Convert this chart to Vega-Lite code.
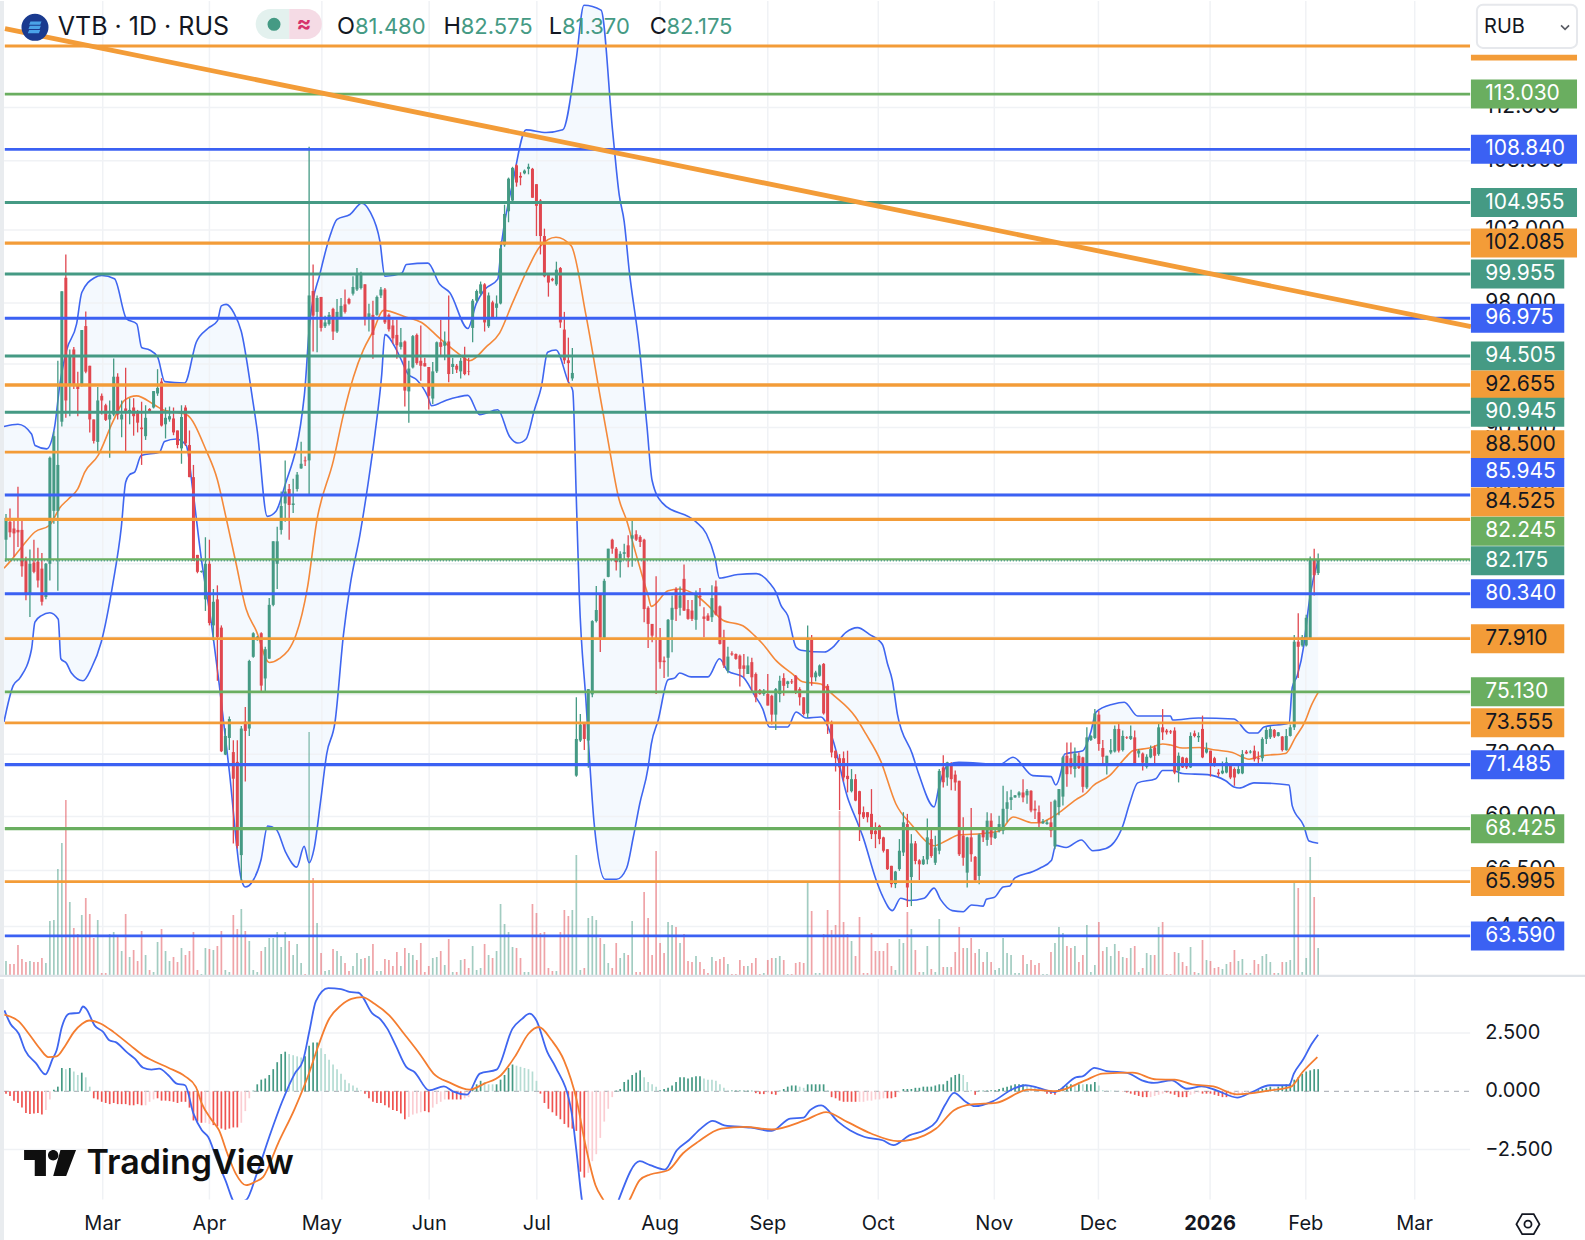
{"$schema":"https://vega.github.io/schema/vega-lite/v6.json","padding":0,"background":"white","spacing":0,"config":{"view":{"stroke":null},"concat":{"spacing":0},"text":{"font":"Inter"}},
"resolve":{"scale":{"color":"independent","strokeWidth":"independent","size":"independent"}},
"datasets":{
"candles":[
{"i":0,"o":83.36,"h":84.83,"l":82.12,"c":84.61,"v":14},{"i":1,"o":84.39,"h":85.16,"l":83.5,"c":83.78,"v":11},{"i":2,"o":84.0,"h":84.47,"l":82.4,"c":83.72,"v":11},{"i":3,"o":83.92,"h":86.43,"l":82.95,"c":83.78,"v":30},{"i":4,"o":83.92,"h":84.47,"l":81.28,"c":81.86,"v":16},{"i":5,"o":82.25,"h":82.39,"l":79.98,"c":80.29,"v":13},{"i":6,"o":80.29,"h":82.8,"l":79.07,"c":82.0,"v":14},{"i":7,"o":82.07,"h":83.36,"l":81.47,"c":81.55,"v":13},{"i":8,"o":82.12,"h":82.9,"l":80.68,"c":81.07,"v":13},{"i":9,"o":81.73,"h":82.6,"l":79.7,"c":79.9,"v":17},
{"i":10,"o":80.16,"h":82.05,"l":80.03,"c":82.0,"v":12},{"i":11,"o":82.0,"h":88.24,"l":81.07,"c":88.16,"v":54},{"i":12,"o":85.02,"h":89.77,"l":84.27,"c":89.47,"v":55},{"i":13,"o":85.02,"h":94.2,"l":80.5,"c":87.73,"v":106},{"i":14,"o":90.36,"h":98.78,"l":90.06,"c":98.78,"v":132},{"i":15,"o":99.7,"h":101.3,"l":90.6,"c":91.68,"v":175},{"i":16,"o":92.72,"h":94.93,"l":90.7,"c":94.54,"v":73},{"i":17,"o":94.93,"h":95.09,"l":92.4,"c":92.72,"v":47},{"i":18,"o":92.65,"h":93.5,"l":90.7,"c":92.4,"v":41},{"i":19,"o":92.65,"h":96.2,"l":92.56,"c":96.2,"v":60},
{"i":20,"o":96.46,"h":97.43,"l":93.4,"c":93.5,"v":77},{"i":21,"o":93.88,"h":93.88,"l":89.7,"c":90.5,"v":61},{"i":22,"o":90.5,"h":90.5,"l":89.03,"c":89.18,"v":37},{"i":23,"o":89.12,"h":92.53,"l":88.44,"c":91.68,"v":55},{"i":24,"o":91.97,"h":92.12,"l":90.8,"c":91.68,"v":2},{"i":25,"o":91.38,"h":91.47,"l":90.41,"c":90.47,"v":2},{"i":26,"o":90.5,"h":91.68,"l":88.16,"c":90.8,"v":41},{"i":27,"o":90.8,"h":94.35,"l":90.7,"c":93.18,"v":43},{"i":28,"o":93.18,"h":93.4,"l":90.5,"c":90.8,"v":38},{"i":29,"o":90.5,"h":91.68,"l":89.4,"c":90.8,"v":24},
{"i":30,"o":91.18,"h":93.75,"l":88.53,"c":91.0,"v":61},{"i":31,"o":90.95,"h":91.82,"l":90.2,"c":91.09,"v":18},{"i":32,"o":91.24,"h":91.82,"l":89.5,"c":90.7,"v":25},{"i":33,"o":91.0,"h":91.09,"l":89.7,"c":90.3,"v":14},{"i":34,"o":90.0,"h":91.6,"l":87.73,"c":89.9,"v":44},{"i":35,"o":89.47,"h":91.38,"l":89.24,"c":90.6,"v":20},{"i":36,"o":91.15,"h":91.2,"l":90.9,"c":90.95,"v":5},{"i":37,"o":91.24,"h":92.27,"l":91.18,"c":92.27,"v":3},{"i":38,"o":92.12,"h":93.66,"l":91.97,"c":92.47,"v":33},{"i":39,"o":92.87,"h":93.09,"l":90.06,"c":90.12,"v":46},
{"i":40,"o":90.2,"h":91.24,"l":89.33,"c":90.6,"v":24},{"i":41,"o":90.5,"h":91.3,"l":90.36,"c":90.7,"v":14},{"i":42,"o":90.56,"h":91.24,"l":89.53,"c":89.7,"v":18},{"i":43,"o":89.82,"h":89.82,"l":88.73,"c":88.93,"v":13},{"i":44,"o":88.73,"h":91.38,"l":87.8,"c":90.65,"v":27},{"i":45,"o":91.24,"h":91.38,"l":88.87,"c":89.03,"v":20},{"i":46,"o":88.93,"h":89.82,"l":87.0,"c":87.0,"v":24},{"i":47,"o":87.0,"h":87.73,"l":82.175,"c":82.175,"v":43},{"i":48,"o":82.5,"h":82.5,"l":81.47,"c":81.55,"v":5},{"i":49,"o":81.55,"h":81.62,"l":81.5,"c":81.6,"v":1},
{"i":50,"o":80.03,"h":83.5,"l":79.4,"c":82.0,"v":27},{"i":51,"o":82.0,"h":83.36,"l":78.62,"c":78.75,"v":26},{"i":52,"o":78.62,"h":80.6,"l":77.78,"c":79.9,"v":25},{"i":53,"o":80.03,"h":80.8,"l":75.7,"c":78.0,"v":29},{"i":54,"o":78.5,"h":78.62,"l":72.1,"c":72.14,"v":44},{"i":55,"o":71.98,"h":73.28,"l":71.95,"c":72.9,"v":5},{"i":56,"o":72.8,"h":73.88,"l":72.2,"c":73.75,"v":3},{"i":57,"o":72.1,"h":72.68,"l":67.73,"c":70.8,"v":60},{"i":58,"o":71.62,"h":72.68,"l":67.5,"c":67.62,"v":46},{"i":59,"o":67.2,"h":73.4,"l":66.0,"c":73.27,"v":66},
{"i":60,"o":73.62,"h":74.35,"l":70.67,"c":73.15,"v":44},{"i":61,"o":73.27,"h":76.8,"l":72.9,"c":76.73,"v":34},{"i":62,"o":76.95,"h":78.25,"l":76.9,"c":78.2,"v":5},{"i":63,"o":77.85,"h":78.05,"l":77.8,"c":78.0,"v":3},{"i":64,"o":78.2,"h":78.25,"l":75.08,"c":75.45,"v":24},{"i":65,"o":75.82,"h":77.48,"l":75.15,"c":77.35,"v":28},{"i":66,"o":76.85,"h":80.1,"l":76.85,"c":79.73,"v":37},{"i":67,"o":79.73,"h":83.27,"l":79.65,"c":83.27,"v":37},{"i":68,"o":82.0,"h":84.1,"l":80.6,"c":83.27,"v":43},{"i":69,"o":83.92,"h":86.15,"l":83.65,"c":85.3,"v":28},
{"i":70,"o":85.45,"h":88.0,"l":84.39,"c":86.15,"v":43},{"i":71,"o":86.3,"h":86.6,"l":83.36,"c":85.36,"v":34},{"i":72,"o":85.36,"h":86.9,"l":84.9,"c":85.45,"v":20},{"i":73,"o":86.3,"h":87.3,"l":86.15,"c":87.15,"v":31},{"i":74,"o":87.52,"h":89.13,"l":87.5,"c":87.8,"v":12},{"i":75,"o":88.0,"h":88.24,"l":87.67,"c":87.95,"v":1},{"i":76,"o":88.0,"h":109.04,"l":85.945,"c":98.5,"v":243},{"i":77,"o":98.8,"h":100.6,"l":94.8,"c":97.15,"v":97},{"i":78,"o":97.4,"h":98.5,"l":94.75,"c":98.33,"v":52},{"i":79,"o":98.4,"h":98.4,"l":96.1,"c":96.34,"v":22},
{"i":80,"o":96.45,"h":97.15,"l":96.34,"c":96.7,"v":4},{"i":81,"o":96.6,"h":97.4,"l":96.5,"c":97.2,"v":5},{"i":82,"o":97.6,"h":97.67,"l":95.55,"c":96.1,"v":26},{"i":83,"o":96.1,"h":98.26,"l":96.0,"c":97.4,"v":24},{"i":84,"o":97.05,"h":98.33,"l":97.05,"c":97.8,"v":19},{"i":85,"o":97.9,"h":98.9,"l":97.3,"c":97.4,"v":12},{"i":86,"o":98.26,"h":98.35,"l":97.9,"c":97.96,"v":4},{"i":87,"o":98.62,"h":99.8,"l":98.5,"c":99.07,"v":9},{"i":88,"o":98.9,"h":100.36,"l":98.8,"c":99.98,"v":22},{"i":89,"o":99.0,"h":100.1,"l":98.9,"c":99.88,"v":16},
{"i":90,"o":99.25,"h":99.25,"l":96.5,"c":97.05,"v":17},{"i":91,"o":97.05,"h":97.95,"l":96.1,"c":97.3,"v":19},{"i":92,"o":97.2,"h":98.15,"l":94.33,"c":95.88,"v":31},{"i":93,"o":97.2,"h":98.5,"l":97.15,"c":98.4,"v":4},{"i":94,"o":98.5,"h":99.07,"l":98.33,"c":98.9,"v":4},{"i":95,"o":98.9,"h":99.0,"l":96.6,"c":96.7,"v":16},{"i":96,"o":97.2,"h":97.3,"l":96.1,"c":96.25,"v":15},{"i":97,"o":96.5,"h":96.87,"l":95.3,"c":95.65,"v":9},{"i":98,"o":95.88,"h":96.87,"l":94.33,"c":95.2,"v":23},{"i":99,"o":95.1,"h":96.34,"l":94.93,"c":95.4,"v":9},
{"i":100,"o":95.45,"h":95.52,"l":91.3,"c":92.3,"v":27},{"i":101,"o":92.25,"h":94.2,"l":90.3,"c":93.7,"v":22},{"i":102,"o":93.77,"h":95.88,"l":93.7,"c":95.8,"v":20},{"i":103,"o":95.88,"h":95.98,"l":93.95,"c":94.05,"v":15},{"i":104,"o":94.2,"h":96.5,"l":92.93,"c":93.88,"v":32},{"i":105,"o":94.05,"h":94.4,"l":93.84,"c":93.84,"v":3},{"i":106,"o":93.8,"h":93.8,"l":91.12,"c":91.97,"v":9},{"i":107,"o":91.8,"h":94.12,"l":91.46,"c":93.52,"v":17},{"i":108,"o":93.52,"h":95.45,"l":93.42,"c":95.4,"v":18},{"i":109,"o":95.4,"h":96.87,"l":94.58,"c":95.1,"v":24},
{"i":110,"o":95.17,"h":96.1,"l":94.23,"c":95.45,"v":10},{"i":111,"o":95.45,"h":98.5,"l":92.83,"c":93.35,"v":36},{"i":112,"o":93.8,"h":94.4,"l":93.35,"c":94.0,"v":3},{"i":113,"o":93.88,"h":94.0,"l":93.42,"c":93.63,"v":3},{"i":114,"o":93.52,"h":94.4,"l":93.07,"c":94.2,"v":15},{"i":115,"o":94.4,"h":95.1,"l":93.28,"c":93.35,"v":16},{"i":116,"o":93.52,"h":94.4,"l":93.28,"c":93.49,"v":7},{"i":117,"o":96.34,"h":98.26,"l":95.4,"c":98.15,"v":29},{"i":118,"o":98.15,"h":98.9,"l":98.04,"c":98.8,"v":5},{"i":119,"o":98.62,"h":99.44,"l":98.5,"c":99.25,"v":7},
{"i":120,"o":99.25,"h":99.33,"l":96.1,"c":96.7,"v":31},{"i":121,"o":96.45,"h":98.7,"l":96.34,"c":98.5,"v":20},{"i":122,"o":98.04,"h":98.15,"l":96.95,"c":97.05,"v":17},{"i":123,"o":97.67,"h":98.5,"l":97.05,"c":97.96,"v":24},{"i":124,"o":97.96,"h":102.2,"l":97.9,"c":101.72,"v":71},{"i":125,"o":101.94,"h":104.8,"l":101.83,"c":104.14,"v":51},{"i":126,"o":104.33,"h":106.76,"l":103.55,"c":106.68,"v":43},{"i":127,"o":105.1,"h":107.55,"l":105.03,"c":107.47,"v":28},{"i":128,"o":107.66,"h":107.74,"l":106.1,"c":106.4,"v":27},{"i":129,"o":106.88,"h":107.15,"l":106.2,"c":106.76,"v":17},
{"i":130,"o":107.07,"h":107.35,"l":107.0,"c":107.27,"v":3},{"i":131,"o":107.4,"h":107.78,"l":107.0,"c":107.55,"v":3},{"i":132,"o":107.4,"h":107.47,"l":105.3,"c":105.3,"v":71},{"i":133,"o":106.28,"h":106.28,"l":102.58,"c":104.72,"v":62},{"i":134,"o":105.1,"h":105.2,"l":101.3,"c":102.58,"v":42},{"i":135,"o":102.58,"h":103.1,"l":99.73,"c":99.8,"v":43},{"i":136,"o":100.0,"h":100.0,"l":98.42,"c":99.37,"v":7},{"i":137,"o":99.63,"h":99.7,"l":99.45,"c":99.52,"v":4},{"i":138,"o":99.25,"h":100.8,"l":99.15,"c":100.25,"v":4},{"i":139,"o":100.36,"h":100.43,"l":96.34,"c":96.7,"v":43},
{"i":140,"o":96.23,"h":97.4,"l":94.0,"c":94.23,"v":65},{"i":141,"o":94.23,"h":95.7,"l":92.83,"c":94.05,"v":59},{"i":142,"o":93.07,"h":95.03,"l":92.93,"c":93.42,"v":65},{"i":143,"o":70.95,"h":74.85,"l":70.9,"c":72.75,"v":120},{"i":144,"o":72.67,"h":74.0,"l":72.6,"c":73.47,"v":5},{"i":145,"o":73.55,"h":73.6,"l":72.2,"c":72.75,"v":7},{"i":146,"o":72.67,"h":75.27,"l":71.33,"c":75.27,"v":57},{"i":147,"o":75.0,"h":78.9,"l":74.85,"c":78.85,"v":59},{"i":148,"o":78.85,"h":80.76,"l":78.77,"c":79.45,"v":55},{"i":149,"o":80.3,"h":80.3,"l":77.2,"c":77.96,"v":37},
{"i":150,"o":77.96,"h":81.17,"l":77.88,"c":81.05,"v":31},{"i":151,"o":81.27,"h":82.85,"l":81.25,"c":82.85,"v":12},{"i":152,"o":83.36,"h":83.42,"l":82.56,"c":82.85,"v":7},{"i":153,"o":82.85,"h":82.95,"l":81.62,"c":82.09,"v":32},{"i":154,"o":82.09,"h":82.71,"l":81.23,"c":82.56,"v":17},{"i":155,"o":82.56,"h":83.13,"l":82.22,"c":82.65,"v":22},{"i":156,"o":83.04,"h":83.61,"l":81.81,"c":82.37,"v":20},{"i":157,"o":83.42,"h":84.47,"l":81.83,"c":83.61,"v":54},{"i":158,"o":83.67,"h":83.9,"l":83.28,"c":83.36,"v":3},{"i":159,"o":83.52,"h":83.61,"l":82.95,"c":83.23,"v":3},
{"i":160,"o":83.36,"h":83.42,"l":78.79,"c":79.5,"v":83},{"i":161,"o":79.57,"h":79.65,"l":77.42,"c":78.7,"v":57},{"i":162,"o":78.7,"h":78.7,"l":77.72,"c":78.07,"v":20},{"i":163,"o":77.95,"h":81.3,"l":75.02,"c":77.85,"v":124},{"i":164,"o":77.9,"h":78.48,"l":76.32,"c":76.67,"v":32},{"i":165,"o":76.75,"h":76.96,"l":75.84,"c":76.67,"v":22},{"i":166,"o":76.9,"h":78.97,"l":75.91,"c":78.92,"v":53},{"i":167,"o":78.92,"h":80.24,"l":77.19,"c":79.57,"v":50},{"i":168,"o":80.6,"h":80.7,"l":78.85,"c":79.5,"v":48},{"i":169,"o":79.57,"h":80.74,"l":79.15,"c":80.24,"v":32},
{"i":170,"o":81.16,"h":81.96,"l":79.39,"c":79.42,"v":41},{"i":171,"o":79.5,"h":80.0,"l":78.92,"c":78.97,"v":14},{"i":172,"o":79.42,"h":80.0,"l":78.85,"c":78.97,"v":13},{"i":173,"o":78.92,"h":80.52,"l":78.38,"c":80.3,"v":19},{"i":174,"o":80.24,"h":80.66,"l":79.65,"c":80.15,"v":13},{"i":175,"o":79.1,"h":79.6,"l":77.98,"c":78.97,"v":6},{"i":176,"o":79.15,"h":79.28,"l":78.85,"c":78.88,"v":2},{"i":177,"o":79.06,"h":80.8,"l":78.8,"c":80.1,"v":18},{"i":178,"o":80.74,"h":81.07,"l":79.15,"c":79.2,"v":14},{"i":179,"o":79.65,"h":79.7,"l":77.6,"c":77.63,"v":16},
{"i":180,"o":77.98,"h":78.38,"l":76.37,"c":76.5,"v":18},{"i":181,"o":76.23,"h":77.48,"l":76.09,"c":76.96,"v":11},{"i":182,"o":77.13,"h":77.24,"l":77.0,"c":77.07,"v":1},{"i":183,"o":77.1,"h":77.13,"l":76.79,"c":76.84,"v":1},{"i":184,"o":77.01,"h":77.07,"l":75.41,"c":76.32,"v":15},{"i":185,"o":76.5,"h":77.1,"l":75.88,"c":76.32,"v":9},{"i":186,"o":76.05,"h":76.96,"l":76.05,"c":76.5,"v":9},{"i":187,"o":76.67,"h":76.9,"l":75.15,"c":75.88,"v":12},{"i":188,"o":76.05,"h":76.13,"l":74.6,"c":74.85,"v":17},{"i":189,"o":75.22,"h":75.27,"l":74.98,"c":75.02,"v":1},
{"i":190,"o":75.02,"h":75.27,"l":74.93,"c":75.19,"v":2},{"i":191,"o":75.02,"h":76.05,"l":74.43,"c":74.43,"v":15},{"i":192,"o":74.93,"h":74.98,"l":73.47,"c":73.97,"v":17},{"i":193,"o":73.97,"h":75.33,"l":73.2,"c":75.27,"v":17},{"i":194,"o":75.02,"h":75.96,"l":74.6,"c":75.7,"v":19},{"i":195,"o":75.84,"h":76.09,"l":74.93,"c":75.44,"v":15},{"i":196,"o":75.53,"h":75.7,"l":75.33,"c":75.67,"v":1},{"i":197,"o":75.67,"h":75.79,"l":75.53,"c":75.62,"v":1},{"i":198,"o":75.96,"h":76.0,"l":75.02,"c":75.1,"v":12},{"i":199,"o":75.27,"h":75.36,"l":74.43,"c":74.85,"v":13},
{"i":200,"o":74.85,"h":74.85,"l":73.92,"c":74.0,"v":12},{"i":201,"o":74.03,"h":78.62,"l":73.8,"c":77.9,"v":92},{"i":202,"o":77.9,"h":78.1,"l":75.44,"c":75.88,"v":64},{"i":203,"o":75.88,"h":76.22,"l":75.67,"c":76.13,"v":2},{"i":204,"o":75.96,"h":76.55,"l":75.91,"c":76.5,"v":2},{"i":205,"o":76.58,"h":76.62,"l":73.97,"c":74.03,"v":41},{"i":206,"o":75.44,"h":75.53,"l":73.0,"c":73.58,"v":65},{"i":207,"o":73.58,"h":73.67,"l":71.84,"c":72.08,"v":45},{"i":208,"o":72.17,"h":72.17,"l":71.15,"c":71.8,"v":50},{"i":209,"o":71.8,"h":72.0,"l":69.3,"c":71.35,"v":164},
{"i":210,"o":71.8,"h":72.13,"l":70.67,"c":70.86,"v":53},{"i":211,"o":70.94,"h":72.17,"l":70.14,"c":70.78,"v":41},{"i":212,"o":70.2,"h":71.27,"l":70.14,"c":70.78,"v":34},{"i":213,"o":70.78,"h":71.02,"l":69.72,"c":69.75,"v":19},{"i":214,"o":70.2,"h":70.22,"l":67.85,"c":69.1,"v":58},{"i":215,"o":69.2,"h":69.47,"l":68.88,"c":68.96,"v":2},{"i":216,"o":69.2,"h":69.2,"l":68.72,"c":68.96,"v":2},{"i":217,"o":69.12,"h":70.3,"l":67.94,"c":68.17,"v":42},{"i":218,"o":68.33,"h":68.72,"l":67.52,"c":68.17,"v":24},{"i":219,"o":68.56,"h":68.61,"l":67.7,"c":67.94,"v":24},
{"i":220,"o":68.02,"h":68.05,"l":67.32,"c":67.4,"v":24},{"i":221,"o":67.47,"h":67.47,"l":66.52,"c":66.56,"v":32},{"i":222,"o":66.71,"h":66.71,"l":65.73,"c":65.88,"v":9},{"i":223,"o":65.88,"h":66.48,"l":65.7,"c":66.45,"v":5},{"i":224,"o":66.56,"h":67.94,"l":66.48,"c":67.4,"v":36},{"i":225,"o":67.32,"h":69.2,"l":67.16,"c":68.72,"v":32},{"i":226,"o":68.64,"h":69.12,"l":64.86,"c":65.73,"v":63},{"i":227,"o":66.2,"h":68.17,"l":64.9,"c":67.74,"v":46},{"i":228,"o":67.74,"h":67.85,"l":66.78,"c":66.93,"v":25},{"i":229,"o":66.96,"h":67.01,"l":66.07,"c":66.78,"v":3},
{"i":230,"o":66.78,"h":67.16,"l":66.75,"c":67.0,"v":3},{"i":231,"o":67.0,"h":68.9,"l":66.78,"c":68.02,"v":29},{"i":232,"o":67.94,"h":68.41,"l":67.08,"c":67.16,"v":6},{"i":233,"o":66.85,"h":68.1,"l":66.75,"c":67.55,"v":3},{"i":234,"o":67.4,"h":71.27,"l":67.24,"c":71.18,"v":56},{"i":235,"o":71.35,"h":71.95,"l":70.38,"c":70.63,"v":8},{"i":236,"o":70.86,"h":71.62,"l":70.46,"c":71.6,"v":8},{"i":237,"o":71.5,"h":71.6,"l":70.25,"c":70.78,"v":8},{"i":238,"o":71.0,"h":71.2,"l":70.22,"c":70.62,"v":23},{"i":239,"o":70.7,"h":70.7,"l":67.16,"c":67.24,"v":48},
{"i":240,"o":68.1,"h":68.96,"l":66.71,"c":67.08,"v":27},{"i":241,"o":66.4,"h":68.05,"l":65.73,"c":68.02,"v":27},{"i":242,"o":68.02,"h":69.4,"l":66.9,"c":67.24,"v":37},{"i":243,"o":67.12,"h":67.16,"l":66.03,"c":66.06,"v":22},{"i":244,"o":66.25,"h":68.2,"l":65.88,"c":68.15,"v":26},{"i":245,"o":68.41,"h":68.49,"l":67.8,"c":68.02,"v":13},{"i":246,"o":67.9,"h":69.2,"l":67.63,"c":68.8,"v":23},{"i":247,"o":68.8,"h":69.15,"l":67.67,"c":68.02,"v":13},{"i":248,"o":67.99,"h":68.41,"l":67.94,"c":68.25,"v":5},{"i":249,"o":68.33,"h":69.03,"l":68.25,"c":68.64,"v":7},
{"i":250,"o":68.33,"h":70.46,"l":68.17,"c":69.36,"v":37},{"i":251,"o":69.36,"h":70.2,"l":68.72,"c":69.67,"v":22},{"i":252,"o":69.78,"h":70.27,"l":69.3,"c":69.91,"v":20},{"i":253,"o":69.9,"h":70.02,"l":69.88,"c":70.0,"v":2},{"i":254,"o":70.0,"h":70.2,"l":69.88,"c":70.14,"v":2},{"i":255,"o":70.14,"h":70.78,"l":69.67,"c":69.9,"v":20},{"i":256,"o":70.0,"h":70.3,"l":69.6,"c":70.22,"v":11},{"i":257,"o":70.22,"h":70.25,"l":69.2,"c":69.28,"v":15},{"i":258,"o":69.36,"h":69.75,"l":68.88,"c":69.28,"v":10},{"i":259,"o":69.2,"h":69.52,"l":68.36,"c":68.72,"v":12},
{"i":260,"o":68.68,"h":68.88,"l":68.64,"c":68.77,"v":1},{"i":261,"o":68.64,"h":68.83,"l":68.61,"c":68.72,"v":1},{"i":262,"o":68.72,"h":69.7,"l":68.02,"c":68.33,"v":23},{"i":263,"o":67.6,"h":69.8,"l":67.47,"c":69.75,"v":32},{"i":264,"o":69.44,"h":70.3,"l":69.06,"c":70.3,"v":48},{"i":265,"o":69.94,"h":71.92,"l":69.52,"c":71.84,"v":42},{"i":266,"o":71.92,"h":72.57,"l":70.41,"c":71.02,"v":29},{"i":267,"o":71.8,"h":72.57,"l":71.02,"c":71.35,"v":27},{"i":268,"o":71.27,"h":72.33,"l":70.86,"c":72.03,"v":29},{"i":269,"o":71.92,"h":72.08,"l":71.27,"c":71.32,"v":13},
{"i":270,"o":71.84,"h":71.87,"l":70.14,"c":70.41,"v":20},{"i":271,"o":70.38,"h":73.33,"l":70.3,"c":72.83,"v":50},{"i":272,"o":72.7,"h":72.95,"l":72.65,"c":72.9,"v":3},{"i":273,"o":72.8,"h":74.25,"l":72.75,"c":74.03,"v":10},{"i":274,"o":73.97,"h":74.17,"l":72.17,"c":72.5,"v":53},{"i":275,"o":72.3,"h":72.7,"l":71.5,"c":71.87,"v":24},{"i":276,"o":71.48,"h":71.92,"l":71.0,"c":71.92,"v":28},{"i":277,"o":72.08,"h":72.75,"l":72.0,"c":72.2,"v":19},{"i":278,"o":72.13,"h":73.42,"l":72.08,"c":73.25,"v":31},{"i":279,"o":73.25,"h":73.5,"l":72.08,"c":72.17,"v":24},
{"i":280,"o":72.2,"h":73.17,"l":72.13,"c":72.9,"v":18},{"i":281,"o":72.83,"h":72.88,"l":72.75,"c":72.8,"v":17},{"i":282,"o":72.75,"h":73.42,"l":72.7,"c":72.9,"v":27},{"i":283,"o":72.83,"h":73.17,"l":71.5,"c":71.5,"v":29},{"i":284,"o":72.03,"h":72.25,"l":71.84,"c":72.17,"v":3},{"i":285,"o":72.03,"h":72.08,"l":71.2,"c":71.58,"v":7},{"i":286,"o":71.38,"h":72.0,"l":71.3,"c":71.87,"v":22},{"i":287,"o":71.84,"h":72.42,"l":71.8,"c":72.25,"v":20},{"i":288,"o":72.33,"h":72.42,"l":71.5,"c":71.92,"v":20},{"i":289,"o":72.0,"h":73.58,"l":71.92,"c":73.33,"v":48},
{"i":290,"o":73.33,"h":74.25,"l":72.7,"c":73.08,"v":53},{"i":291,"o":73.17,"h":73.25,"l":72.97,"c":73.08,"v":1},{"i":292,"o":73.13,"h":73.2,"l":73.0,"c":73.08,"v":1},{"i":293,"o":73.17,"h":73.33,"l":71.02,"c":71.1,"v":23},{"i":294,"o":71.19,"h":72.08,"l":70.62,"c":71.92,"v":22},{"i":295,"o":71.84,"h":71.87,"l":71.32,"c":71.35,"v":13},{"i":296,"o":71.8,"h":71.84,"l":71.27,"c":71.35,"v":9},{"i":297,"o":71.35,"h":73.08,"l":71.32,"c":72.9,"v":28},{"i":298,"o":73.03,"h":73.17,"l":72.83,"c":72.9,"v":3},{"i":299,"o":72.83,"h":73.08,"l":72.6,"c":72.9,"v":2},
{"i":300,"o":73.25,"h":73.92,"l":71.8,"c":71.84,"v":35},{"i":301,"o":72.08,"h":72.57,"l":72.03,"c":72.25,"v":15},{"i":302,"o":72.17,"h":72.17,"l":70.9,"c":71.5,"v":14},{"i":303,"o":71.8,"h":71.87,"l":71.38,"c":71.43,"v":7},{"i":304,"o":71.1,"h":71.27,"l":70.9,"c":71.02,"v":8},{"i":305,"o":71.06,"h":71.64,"l":71.02,"c":71.19,"v":6},{"i":306,"o":71.1,"h":71.84,"l":71.06,"c":71.6,"v":11},{"i":307,"o":71.48,"h":71.55,"l":70.78,"c":70.86,"v":13},{"i":308,"o":71.27,"h":71.35,"l":70.46,"c":70.86,"v":25},{"i":309,"o":71.06,"h":71.48,"l":71.02,"c":71.27,"v":14},
{"i":310,"o":71.06,"h":72.2,"l":71.02,"c":72.0,"v":16},{"i":311,"o":72.12,"h":72.2,"l":72.0,"c":72.03,"v":2},{"i":312,"o":72.08,"h":72.2,"l":72.03,"c":72.13,"v":2},{"i":313,"o":72.17,"h":72.42,"l":71.64,"c":71.75,"v":15},{"i":314,"o":71.8,"h":72.13,"l":71.5,"c":71.75,"v":11},{"i":315,"o":71.8,"h":72.83,"l":71.64,"c":72.75,"v":19},{"i":316,"o":72.75,"h":73.33,"l":72.5,"c":73.2,"v":21},{"i":317,"o":72.83,"h":73.38,"l":72.75,"c":73.25,"v":13},{"i":318,"o":73.2,"h":73.25,"l":72.8,"c":72.87,"v":2},{"i":319,"o":72.9,"h":73.1,"l":72.87,"c":73.08,"v":2},
{"i":320,"o":72.87,"h":72.9,"l":72.13,"c":72.2,"v":13},{"i":321,"o":72.2,"h":73.25,"l":72.17,"c":72.9,"v":13},{"i":322,"o":72.9,"h":73.47,"l":72.87,"c":73.33,"v":15},{"i":323,"o":73.33,"h":78.1,"l":73.2,"c":77.75,"v":92},{"i":324,"o":77.75,"h":79.28,"l":75.84,"c":77.48,"v":87},{"i":325,"o":77.55,"h":78.1,"l":77.48,"c":78.0,"v":3},{"i":326,"o":77.55,"h":79.2,"l":77.5,"c":79.03,"v":17},{"i":327,"o":77.9,"h":82.41,"l":77.85,"c":82.28,"v":118},{"i":328,"o":82.22,"h":82.85,"l":80.24,"c":81.36,"v":78},{"i":329,"o":81.48,"h":82.575,"l":81.37,"c":82.175,"v":27}
],
"upper":[{"i":-0.5,"p":90.06},{"i":3,"p":90.2},{"i":6.4,"p":89.6},{"i":7.3,"p":88.9},{"i":10.2,"p":88.7},{"i":12.2,"p":90.06},{"i":13.5,"p":92.7},{"i":15.2,"p":94.9},{"i":17.7,"p":96.6},{"i":19,"p":98.7},{"i":22.2,"p":99.7},{"i":24,"p":99.85},{"i":27.2,"p":99.63},{"i":30.2,"p":96.95},{"i":32.8,"p":96.6},{"i":34,"p":95.06},{"i":36,"p":94.9},{"i":38,"p":94.45},{"i":39.8,"p":92.87},{"i":44.8,"p":92.78},{"i":47.7,"p":95.4},{"i":50.6,"p":96.3},{"i":53,"p":96.8},{"i":54,"p":97.8},{"i":55.2,"p":97.9},{"i":57.2,"p":97.3},{"i":59,"p":96.1},{"i":61.8,"p":91.8},{"i":63,"p":89.8},{"i":65.5,"p":84.7},{"i":67.7,"p":85.0},{"i":69.8,"p":86.4},{"i":74.8,"p":92.0},{"i":76.2,"p":96.8},{"i":78.75,"p":100.0},{"i":81.25,"p":102.6},{"i":83,"p":103.75},{"i":86.25,"p":104.1},{"i":89.2,"p":104.9},{"i":91.25,"p":104.3},{"i":93.75,"p":102.2},{"i":95,"p":99.8},{"i":99.2,"p":100},{"i":100.4,"p":100.6},{"i":105.8,"p":100.7},{"i":108.75,"p":99.25},{"i":111.25,"p":98.7},{"i":115.8,"p":96.3},{"i":117.9,"p":97.95},{"i":120,"p":98.9},{"i":123.3,"p":99.6},{"i":124.2,"p":102},{"i":127,"p":106.3},{"i":130.4,"p":110.3},{"i":135.4,"p":110.1},{"i":139.6,"p":110.3},{"i":142.9,"p":115.6},{"i":144.9,"p":120.1},{"i":149.2,"p":119.7},{"i":152.1,"p":110.2},{"i":153.75,"p":105.5},{"i":155,"p":103.6},{"i":156.25,"p":100.2},{"i":158.7,"p":95.3},{"i":160.7,"p":90.1},{"i":162,"p":86.8},{"i":164.5,"p":85.5},{"i":172.9,"p":84.4},{"i":175.6,"p":83.7},{"i":177.7,"p":82.4},{"i":178.9,"p":81.2},{"i":183.5,"p":81.4},{"i":188.1,"p":81.45},{"i":191.4,"p":80.95},{"i":193.1,"p":80.4},{"i":194.3,"p":79.7},{"i":196,"p":79.15},{"i":198.1,"p":77.45},{"i":199.3,"p":77.3},{"i":205.2,"p":77.2},{"i":207.25,"p":77.45},{"i":210.6,"p":78.25},{"i":213.5,"p":78.5},{"i":216.4,"p":78.15},{"i":219.75,"p":77.6},{"i":221,"p":76.6},{"i":222.25,"p":75.7},{"i":223.5,"p":74.0},{"i":227.25,"p":72.0},{"i":228.9,"p":71.0},{"i":232.7,"p":69.45},{"i":233.9,"p":70.38},{"i":235.2,"p":71.2},{"i":236.4,"p":71.5},{"i":238.9,"p":71.6},{"i":249.2,"p":71.5},{"i":252.5,"p":71.85},{"i":257.5,"p":70.95},{"i":262,"p":70.9},{"i":263.2,"p":70.5},{"i":264.6,"p":71.2},{"i":265.4,"p":72},{"i":270,"p":72.17},{"i":272,"p":73.1},{"i":273.3,"p":74.1},{"i":277.5,"p":74.5},{"i":280.4,"p":74.6},{"i":283.75,"p":73.9},{"i":292,"p":73.9},{"i":292.5,"p":73.7},{"i":299,"p":73.8},{"i":307.9,"p":73.75},{"i":311.7,"p":73.05},{"i":313.75,"p":73.05},{"i":315.4,"p":73.35},{"i":321.7,"p":73.55},{"i":322.5,"p":75.36},{"i":323.75,"p":75.96},{"i":325.4,"p":77.55},{"i":326.3,"p":79.15},{"i":327.1,"p":80.4},{"i":329,"p":82.2}],
"lower":[{"i":-0.5,"p":73.6},{"i":1.8,"p":75.45},{"i":3.5,"p":75.85},{"i":6.4,"p":77.35},{"i":7.25,"p":78.8},{"i":8.9,"p":79.15},{"i":11,"p":79.3},{"i":13.1,"p":78.95},{"i":13.75,"p":76.85},{"i":15.2,"p":76.6},{"i":16.4,"p":76.1},{"i":19.3,"p":75.7},{"i":21.4,"p":76.35},{"i":23.9,"p":77.75},{"i":26.8,"p":80.9},{"i":28.9,"p":84.05},{"i":30,"p":86.7},{"i":31,"p":87.15},{"i":32.25,"p":87.3},{"i":33.9,"p":88.3},{"i":38.5,"p":88.5},{"i":39.75,"p":89.15},{"i":42.7,"p":89.3},{"i":45.2,"p":88.9},{"i":46.8,"p":86.3},{"i":48.9,"p":82.4},{"i":51.8,"p":78.25},{"i":53.5,"p":75.45},{"i":56,"p":71.15},{"i":59,"p":66.1},{"i":60,"p":65.75},{"i":61.8,"p":66.0},{"i":63.9,"p":66.95},{"i":65.6,"p":68.55},{"i":67.7,"p":68.4},{"i":70.2,"p":67.3},{"i":72.9,"p":66.65},{"i":74.75,"p":67.6},{"i":76,"p":66.85},{"i":77.25,"p":67.5},{"i":78.9,"p":69.75},{"i":80.4,"p":72.0},{"i":82.5,"p":73.6},{"i":84.6,"p":78.1},{"i":86.25,"p":80.75},{"i":88.75,"p":83.65},{"i":90.8,"p":86.65},{"i":92.5,"p":89.6},{"i":94.2,"p":93.3},{"i":95,"p":95.9},{"i":97.9,"p":94.9},{"i":99.2,"p":94.2},{"i":100.8,"p":93.35},{"i":102.9,"p":93.0},{"i":105.8,"p":91.9},{"i":106.7,"p":91.35},{"i":110.4,"p":91.7},{"i":113.3,"p":91.9},{"i":115.8,"p":92.0},{"i":118.75,"p":90.8},{"i":123.3,"p":91.1},{"i":126.25,"p":89.45},{"i":128.3,"p":89.05},{"i":130.4,"p":89.3},{"i":132.5,"p":91.1},{"i":134.2,"p":92.5},{"i":135.8,"p":94.75},{"i":137.9,"p":94.9},{"i":141,"p":92.85},{"i":142.1,"p":92.3},{"i":143,"p":85.7},{"i":143.75,"p":80.2},{"i":145.4,"p":74.7},{"i":147.5,"p":68.6},{"i":150.2,"p":66.1},{"i":153.1,"p":66.1},{"i":155.6,"p":66.6},{"i":157.25,"p":68.0},{"i":158.9,"p":69.6},{"i":161,"p":71.35},{"i":161.8,"p":72.5},{"i":163.5,"p":73.67},{"i":166,"p":75.75},{"i":167.7,"p":75.85},{"i":168.9,"p":76.1},{"i":171.8,"p":75.9},{"i":176,"p":75.9},{"i":178.9,"p":76.85},{"i":181,"p":76.2},{"i":184.75,"p":75.9},{"i":187.7,"p":74.95},{"i":189.75,"p":74.25},{"i":191.4,"p":73.35},{"i":196,"p":73.35},{"i":198.1,"p":74.1},{"i":200.6,"p":73.8},{"i":204.3,"p":73.85},{"i":207.25,"p":72.75},{"i":211,"p":69.9},{"i":213.5,"p":68.7},{"i":214.75,"p":68.1},{"i":218.1,"p":66.1},{"i":219.75,"p":65.35},{"i":222.25,"p":64.7},{"i":224.3,"p":65.25},{"i":226.4,"p":65.15},{"i":230.2,"p":65.25},{"i":232.7,"p":65.7},{"i":234.3,"p":65.2},{"i":237.25,"p":64.7},{"i":240,"p":64.65},{"i":242.1,"p":64.95},{"i":245,"p":64.9},{"i":245.8,"p":65.2},{"i":247.9,"p":65.3},{"i":250,"p":65.75},{"i":251.7,"p":65.8},{"i":252.9,"p":66.15},{"i":257.5,"p":66.45},{"i":259.2,"p":66.6},{"i":262.1,"p":66.95},{"i":263.2,"p":67.65},{"i":265.8,"p":67.55},{"i":269.6,"p":67.9},{"i":272.5,"p":67.4},{"i":275.8,"p":67.5},{"i":277.9,"p":67.8},{"i":280,"p":68.55},{"i":281.7,"p":69.6},{"i":283.75,"p":70.6},{"i":288.3,"p":70.8},{"i":290,"p":71.2},{"i":292.5,"p":71.2},{"i":295,"p":71.05},{"i":301.25,"p":71.0},{"i":305.8,"p":70.7},{"i":307.9,"p":70.4},{"i":309.2,"p":70.35},{"i":312.9,"p":70.6},{"i":321.7,"p":70.5},{"i":322.5,"p":69.5},{"i":325.4,"p":68.55},{"i":326.7,"p":67.85},{"i":329,"p":67.75}],
"ma":[{"i":-0.5,"p":81.75},{"i":1,"p":82.12},{"i":4.3,"p":83.05},{"i":7.25,"p":83.8},{"i":11,"p":84.2},{"i":13.5,"p":85.2},{"i":15.6,"p":85.7},{"i":18,"p":86.3},{"i":19.75,"p":87.3},{"i":23.1,"p":88.3},{"i":26.8,"p":90.36},{"i":29.75,"p":91.7},{"i":32.7,"p":91.97},{"i":37.25,"p":91.4},{"i":39.3,"p":91.1},{"i":45.2,"p":90.8},{"i":50.2,"p":88.6},{"i":53,"p":86.85},{"i":55.2,"p":84.6},{"i":57.7,"p":82.0},{"i":60.2,"p":79.5},{"i":62.7,"p":78.35},{"i":66,"p":76.65},{"i":68.5,"p":76.85},{"i":72.7,"p":78.1},{"i":75.6,"p":80.7},{"i":77.9,"p":84.4},{"i":82.1,"p":88.0},{"i":84.6,"p":90.8},{"i":87.1,"p":93.15},{"i":89.6,"p":94.9},{"i":92.1,"p":96.15},{"i":94.6,"p":97.5},{"i":100.4,"p":97.05},{"i":104.2,"p":96.7},{"i":108.75,"p":95.65},{"i":113.75,"p":94.6},{"i":116.25,"p":94.2},{"i":120.4,"p":95.1},{"i":123.75,"p":96.0},{"i":127,"p":98.0},{"i":131.25,"p":100.55},{"i":133.75,"p":101.8},{"i":137.9,"p":102.5},{"i":141.7,"p":101.9},{"i":145.4,"p":97.2},{"i":149.2,"p":91.6},{"i":150.8,"p":89.4},{"i":153.75,"p":85.65},{"i":155.6,"p":84.47},{"i":157.7,"p":82.75},{"i":159.75,"p":81.15},{"i":161,"p":80.24},{"i":161.8,"p":79.65},{"i":166,"p":80.5},{"i":168.9,"p":80.6},{"i":173.1,"p":80.24},{"i":176,"p":79.7},{"i":179.75,"p":78.9},{"i":184.75,"p":78.6},{"i":187.7,"p":78.07},{"i":189.75,"p":77.63},{"i":193.1,"p":76.75},{"i":197.25,"p":76.05},{"i":199.75,"p":75.65},{"i":204.3,"p":75.53},{"i":207.25,"p":75.0},{"i":213,"p":73.85},{"i":215.6,"p":73.0},{"i":219.3,"p":71.67},{"i":223.1,"p":69.6},{"i":227.25,"p":68.56},{"i":230.6,"p":67.85},{"i":232.7,"p":67.63},{"i":235.6,"p":67.85},{"i":238.9,"p":68.13},{"i":245,"p":68.2},{"i":249.2,"p":68.33},{"i":252.5,"p":68.97},{"i":257.5,"p":68.7},{"i":259.2,"p":68.7},{"i":261.7,"p":68.9},{"i":264.2,"p":69.2},{"i":268.3,"p":69.8},{"i":270.8,"p":70.1},{"i":272.5,"p":70.45},{"i":276.7,"p":70.95},{"i":280.8,"p":71.85},{"i":282.5,"p":72.17},{"i":286.7,"p":72.3},{"i":290,"p":72.5},{"i":292,"p":72.45},{"i":295,"p":72.3},{"i":299.2,"p":72.33},{"i":303.3,"p":72.2},{"i":307.5,"p":72.08},{"i":311.7,"p":71.75},{"i":315,"p":71.92},{"i":320.8,"p":72.03},{"i":323.3,"p":72.83},{"i":325.8,"p":73.67},{"i":327.1,"p":74.35},{"i":329,"p":75.1}],
"levels":[{"p":116.8,"lp":116.8,"k":"orange","g":"m"},{"p":113.03,"lp":113.03,"k":"green","g":"m"},{"p":108.84,"lp":108.84,"k":"blue","g":"m"},{"p":104.955,"lp":104.955,"k":"teal","g":"m"},{"p":102.085,"lp":102.085,"k":"orange","g":"l"},{"p":99.955,"lp":99.955,"k":"teal","g":"m"},{"p":96.975,"lp":96.975,"k":"blue","g":"m"},{"p":94.505,"lp":94.505,"k":"teal","g":"m"},{"p":92.655,"lp":92.655,"k":"orange","g":"l"},{"p":90.945,"lp":90.945,"k":"teal","g":"m"},{"p":88.5,"lp":88.94,"k":"orange","g":"m"},{"p":85.945,"lp":87.28,"k":"blue","g":"m"},{"p":84.525,"lp":85.53,"k":"orange","g":"l"},{"p":82.245,"lp":83.85,"k":"green","g":"s"},{"p":82.175,"lp":82.175,"k":"teal","g":"d"},{"p":80.34,"lp":80.34,"k":"blue","g":"m"},{"p":77.91,"lp":77.91,"k":"orange","g":"m"},{"p":75.13,"lp":75.13,"k":"green","g":"m"},{"p":73.555,"lp":73.555,"k":"orange","g":"m"},{"p":71.485,"lp":71.485,"k":"blue","g":"l"},{"p":68.425,"lp":68.425,"k":"green","g":"l"},{"p":65.995,"lp":65.995,"k":"orange","g":"m"},{"p":63.59,"lp":63.59,"k":"blue","g":"m"}],
"ticks":[{"p":112},{"p":108},{"p":103},{"p":98},{"p":94},{"p":90},{"p":86},{"p":82},{"p":78},{"p":75},{"p":72},{"p":69},{"p":66.5},{"p":64}],
"months":[{"i":24.25,"t":"Mar"},{"i":51,"t":"Apr"},{"i":79.2,"t":"May"},{"i":106.1,"t":"Jun"},{"i":133.1,"t":"Jul"},{"i":164,"t":"Aug"},{"i":191,"t":"Sep"},{"i":218.7,"t":"Oct"},{"i":247.8,"t":"Nov"},{"i":273.9,"t":"Dec"},{"i":301.9,"t":"2026"},{"i":325.9,"t":"Feb"},{"i":353.2,"t":"Mar"}],
"head":[{"i":13,"t":"VTB · 1D · RUS","k":"name"},{"i":83,"t":"O","k":"dark"},{"i":87.5,"t":"81.480","k":"val"},{"i":109.7,"t":"H","k":"dark"},{"i":114,"t":"82.575","k":"val"},{"i":136.1,"t":"L","k":"dark"},{"i":139.4,"t":"81.370","k":"val"},{"i":161.4,"t":"C","k":"dark"},{"i":165.6,"t":"82.175","k":"val"}],
"hist":[{"i":0,"m":-0.1,"k":"c"},{"i":1,"m":-0.2,"k":"c"},{"i":2,"m":-0.4,"k":"c"},{"i":3,"m":-0.5,"k":"c"},{"i":4,"m":-0.7,"k":"c"},{"i":5,"m":-0.93,"k":"c"},{"i":6,"m":-0.97,"k":"c"},{"i":7,"m":-0.95,"k":"c"},{"i":8,"m":-0.93,"k":"c"},{"i":9,"m":-1.0,"k":"c"},{"i":10,"m":-0.8,"k":"d"},{"i":11,"m":-0.35,"k":"d"},{"i":12,"m":0.07,"k":"a"},{"i":13,"m":0.2,"k":"a"},{"i":14,"m":1.0,"k":"a"},{"i":15,"m":0.95,"k":"b"},{"i":16,"m":1.0,"k":"a"},{"i":17,"m":0.85,"k":"b"},{"i":18,"m":0.7,"k":"b"},{"i":19,"m":0.8,"k":"a"},{"i":20,"m":0.6,"k":"b"},{"i":21,"m":0.2,"k":"b"},{"i":22,"m":-0.3,"k":"c"},{"i":23,"m":-0.35,"k":"c"},{"i":24,"m":-0.45,"k":"c"},{"i":25,"m":-0.5,"k":"c"},{"i":26,"m":-0.55,"k":"c"},{"i":27,"m":-0.5,"k":"c"},{"i":28,"m":-0.55,"k":"c"},{"i":29,"m":-0.55,"k":"c"},{"i":30,"m":-0.55,"k":"c"},{"i":31,"m":-0.6,"k":"c"},{"i":32,"m":-0.6,"k":"c"},{"i":33,"m":-0.55,"k":"c"},{"i":34,"m":-0.6,"k":"c"},{"i":35,"m":-0.6,"k":"d"},{"i":36,"m":-0.45,"k":"d"},{"i":37,"m":-0.35,"k":"d"},{"i":38,"m":-0.3,"k":"c"},{"i":39,"m":-0.4,"k":"c"},{"i":40,"m":-0.4,"k":"c"},{"i":41,"m":-0.42,"k":"c"},{"i":42,"m":-0.45,"k":"c"},{"i":43,"m":-0.5,"k":"c"},{"i":44,"m":-0.45,"k":"c"},{"i":45,"m":-0.45,"k":"c"},{"i":46,"m":-0.7,"k":"c"},{"i":47,"m":-1.25,"k":"c"},{"i":48,"m":-1.3,"k":"c"},{"i":49,"m":-1.35,"k":"c"},{"i":50,"m":-1.35,"k":"d"},{"i":51,"m":-1.4,"k":"d"},{"i":52,"m":-1.45,"k":"c"},{"i":53,"m":-1.5,"k":"c"},{"i":54,"m":-1.6,"k":"c"},{"i":55,"m":-1.65,"k":"c"},{"i":56,"m":-1.6,"k":"c"},{"i":57,"m":-1.55,"k":"c"},{"i":58,"m":-1.55,"k":"c"},{"i":59,"m":-1.35,"k":"d"},{"i":60,"m":-0.85,"k":"d"},{"i":61,"m":-0.3,"k":"d"},{"i":62,"m":0.03,"k":"a"},{"i":63,"m":0.3,"k":"a"},{"i":64,"m":0.5,"k":"a"},{"i":65,"m":0.55,"k":"a"},{"i":66,"m":0.7,"k":"a"},{"i":67,"m":0.95,"k":"a"},{"i":68,"m":1.25,"k":"a"},{"i":69,"m":1.6,"k":"a"},{"i":70,"m":1.7,"k":"a"},{"i":71,"m":1.6,"k":"b"},{"i":72,"m":1.55,"k":"b"},{"i":73,"m":1.5,"k":"b"},{"i":74,"m":1.45,"k":"b"},{"i":75,"m":1.5,"k":"a"},{"i":76,"m":1.95,"k":"a"},{"i":77,"m":2.1,"k":"a"},{"i":78,"m":2.1,"k":"a"},{"i":79,"m":1.85,"k":"b"},{"i":80,"m":1.6,"k":"b"},{"i":81,"m":1.35,"k":"b"},{"i":82,"m":1.15,"k":"b"},{"i":83,"m":0.95,"k":"b"},{"i":84,"m":0.75,"k":"b"},{"i":85,"m":0.5,"k":"b"},{"i":86,"m":0.35,"k":"b"},{"i":87,"m":0.25,"k":"b"},{"i":88,"m":0.15,"k":"b"},{"i":89,"m":0.05,"k":"b"},{"i":90,"m":-0.1,"k":"c"},{"i":91,"m":-0.3,"k":"c"},{"i":92,"m":-0.45,"k":"c"},{"i":93,"m":-0.5,"k":"c"},{"i":94,"m":-0.5,"k":"c"},{"i":95,"m":-0.6,"k":"c"},{"i":96,"m":-0.7,"k":"c"},{"i":97,"m":-0.8,"k":"c"},{"i":98,"m":-0.85,"k":"c"},{"i":99,"m":-0.95,"k":"c"},{"i":100,"m":-1.2,"k":"c"},{"i":101,"m":-1.1,"k":"d"},{"i":102,"m":-1.0,"k":"d"},{"i":103,"m":-0.95,"k":"d"},{"i":104,"m":-0.9,"k":"d"},{"i":105,"m":-0.85,"k":"c"},{"i":106,"m":-0.9,"k":"c"},{"i":107,"m":-0.7,"k":"d"},{"i":108,"m":-0.55,"k":"d"},{"i":109,"m":-0.45,"k":"d"},{"i":110,"m":-0.35,"k":"d"},{"i":111,"m":-0.35,"k":"c"},{"i":112,"m":-0.35,"k":"c"},{"i":113,"m":-0.35,"k":"c"},{"i":114,"m":-0.35,"k":"c"},{"i":115,"m":-0.3,"k":"d"},{"i":116,"m":-0.25,"k":"d"},{"i":117,"m":0.15,"k":"a"},{"i":118,"m":0.3,"k":"a"},{"i":119,"m":0.45,"k":"a"},{"i":120,"m":0.4,"k":"b"},{"i":121,"m":0.3,"k":"b"},{"i":122,"m":0.3,"k":"b"},{"i":123,"m":0.3,"k":"a"},{"i":124,"m":0.5,"k":"a"},{"i":125,"m":0.7,"k":"a"},{"i":126,"m":1.0,"k":"a"},{"i":127,"m":1.15,"k":"a"},{"i":128,"m":1.1,"k":"b"},{"i":129,"m":1.05,"k":"b"},{"i":130,"m":1.0,"k":"b"},{"i":131,"m":0.95,"k":"b"},{"i":132,"m":0.85,"k":"b"},{"i":133,"m":0.45,"k":"b"},{"i":134,"m":-0.1,"k":"c"},{"i":135,"m":-0.5,"k":"c"},{"i":136,"m":-0.75,"k":"c"},{"i":137,"m":-0.9,"k":"c"},{"i":138,"m":-1.05,"k":"c"},{"i":139,"m":-1.2,"k":"c"},{"i":140,"m":-1.4,"k":"c"},{"i":141,"m":-1.55,"k":"c"},{"i":142,"m":-1.6,"k":"c"},{"i":143,"m":-1.7,"k":"c"},{"i":144,"m":-3.45,"k":"c"},{"i":145,"m":-3.7,"k":"c"},{"i":146,"m":-3.5,"k":"d"},{"i":147,"m":-3.0,"k":"d"},{"i":148,"m":-2.7,"k":"d"},{"i":149,"m":-2.0,"k":"d"},{"i":150,"m":-1.3,"k":"d"},{"i":151,"m":-0.75,"k":"d"},{"i":152,"m":-0.25,"k":"d"},{"i":153,"m":0.03,"k":"a"},{"i":154,"m":0.1,"k":"a"},{"i":155,"m":0.4,"k":"a"},{"i":156,"m":0.5,"k":"a"},{"i":157,"m":0.7,"k":"a"},{"i":158,"m":0.8,"k":"a"},{"i":159,"m":0.9,"k":"a"},{"i":160,"m":0.6,"k":"b"},{"i":161,"m":0.4,"k":"b"},{"i":162,"m":0.3,"k":"b"},{"i":163,"m":0.2,"k":"b"},{"i":164,"m":0.05,"k":"a"},{"i":165,"m":0.1,"k":"a"},{"i":166,"m":0.15,"k":"a"},{"i":167,"m":0.25,"k":"a"},{"i":168,"m":0.4,"k":"a"},{"i":169,"m":0.6,"k":"a"},{"i":170,"m":0.6,"k":"a"},{"i":171,"m":0.55,"k":"a"},{"i":172,"m":0.6,"k":"a"},{"i":173,"m":0.65,"k":"a"},{"i":174,"m":0.65,"k":"a"},{"i":175,"m":0.55,"k":"b"},{"i":176,"m":0.5,"k":"b"},{"i":177,"m":0.5,"k":"b"},{"i":178,"m":0.45,"k":"b"},{"i":179,"m":0.3,"k":"b"},{"i":180,"m":0.15,"k":"b"},{"i":181,"m":0.03,"k":"b"},{"i":182,"m":0.03,"k":"a"},{"i":183,"m":0.03,"k":"a"},{"i":184,"m":0.03,"k":"a"},{"i":185,"m":0.03,"k":"a"},{"i":186,"m":0.03,"k":"a"},{"i":187,"m":0.03,"k":"a"},{"i":188,"m":-0.08,"k":"c"},{"i":189,"m":-0.12,"k":"c"},{"i":190,"m":-0.12,"k":"c"},{"i":191,"m":-0.06,"k":"d"},{"i":192,"m":-0.12,"k":"c"},{"i":193,"m":-0.15,"k":"c"},{"i":194,"m":0.03,"k":"a"},{"i":195,"m":0.1,"k":"a"},{"i":196,"m":0.2,"k":"a"},{"i":197,"m":0.25,"k":"a"},{"i":198,"m":0.25,"k":"a"},{"i":199,"m":0.2,"k":"b"},{"i":200,"m":0.15,"k":"b"},{"i":201,"m":0.3,"k":"a"},{"i":202,"m":0.3,"k":"a"},{"i":203,"m":0.3,"k":"a"},{"i":204,"m":0.3,"k":"a"},{"i":205,"m":0.3,"k":"a"},{"i":206,"m":0.05,"k":"b"},{"i":207,"m":-0.25,"k":"c"},{"i":208,"m":-0.3,"k":"c"},{"i":209,"m":-0.4,"k":"c"},{"i":210,"m":-0.45,"k":"c"},{"i":211,"m":-0.45,"k":"c"},{"i":212,"m":-0.45,"k":"c"},{"i":213,"m":-0.45,"k":"c"},{"i":214,"m":-0.45,"k":"d"},{"i":215,"m":-0.45,"k":"d"},{"i":216,"m":-0.4,"k":"d"},{"i":217,"m":-0.4,"k":"d"},{"i":218,"m":-0.35,"k":"d"},{"i":219,"m":-0.35,"k":"d"},{"i":220,"m":-0.3,"k":"d"},{"i":221,"m":-0.3,"k":"c"},{"i":222,"m":-0.3,"k":"c"},{"i":223,"m":-0.25,"k":"c"},{"i":224,"m":-0.05,"k":"d"},{"i":225,"m":0.1,"k":"a"},{"i":226,"m":0.1,"k":"a"},{"i":227,"m":0.1,"k":"a"},{"i":228,"m":0.15,"k":"a"},{"i":229,"m":0.15,"k":"a"},{"i":230,"m":0.2,"k":"a"},{"i":231,"m":0.2,"k":"a"},{"i":232,"m":0.2,"k":"a"},{"i":233,"m":0.25,"k":"a"},{"i":234,"m":0.3,"k":"a"},{"i":235,"m":0.3,"k":"a"},{"i":236,"m":0.45,"k":"a"},{"i":237,"m":0.6,"k":"a"},{"i":238,"m":0.7,"k":"a"},{"i":239,"m":0.75,"k":"a"},{"i":240,"m":0.7,"k":"b"},{"i":241,"m":0.4,"k":"b"},{"i":242,"m":0.05,"k":"b"},{"i":243,"m":-0.15,"k":"c"},{"i":244,"m":0.03,"k":"a"},{"i":245,"m":0.03,"k":"a"},{"i":246,"m":0.03,"k":"a"},{"i":247,"m":0.05,"k":"a"},{"i":248,"m":0.05,"k":"a"},{"i":249,"m":0.1,"k":"a"},{"i":250,"m":0.15,"k":"a"},{"i":251,"m":0.2,"k":"a"},{"i":252,"m":0.25,"k":"a"},{"i":253,"m":0.3,"k":"a"},{"i":254,"m":0.3,"k":"a"},{"i":255,"m":0.3,"k":"a"},{"i":256,"m":0.25,"k":"b"},{"i":257,"m":0.2,"k":"b"},{"i":258,"m":0.15,"k":"b"},{"i":259,"m":0.1,"k":"b"},{"i":260,"m":0.05,"k":"b"},{"i":261,"m":-0.1,"k":"c"},{"i":262,"m":-0.12,"k":"c"},{"i":263,"m":-0.15,"k":"c"},{"i":264,"m":0.1,"k":"a"},{"i":265,"m":0.2,"k":"a"},{"i":266,"m":0.25,"k":"a"},{"i":267,"m":0.3,"k":"a"},{"i":268,"m":0.25,"k":"b"},{"i":269,"m":0.3,"k":"a"},{"i":270,"m":0.3,"k":"b"},{"i":271,"m":0.3,"k":"a"},{"i":272,"m":0.3,"k":"a"},{"i":273,"m":0.4,"k":"a"},{"i":274,"m":0.25,"k":"b"},{"i":275,"m":0.05,"k":"b"},{"i":276,"m":0.03,"k":"b"},{"i":277,"m":0.03,"k":"b"},{"i":278,"m":0.03,"k":"b"},{"i":279,"m":0.02,"k":"b"},{"i":280,"m":-0.01,"k":"c"},{"i":281,"m":-0.05,"k":"c"},{"i":282,"m":-0.1,"k":"c"},{"i":283,"m":-0.15,"k":"c"},{"i":284,"m":-0.2,"k":"c"},{"i":285,"m":-0.25,"k":"c"},{"i":286,"m":-0.25,"k":"c"},{"i":287,"m":-0.25,"k":"d"},{"i":288,"m":-0.2,"k":"d"},{"i":289,"m":-0.15,"k":"d"},{"i":290,"m":-0.1,"k":"d"},{"i":291,"m":-0.05,"k":"c"},{"i":292,"m":-0.1,"k":"c"},{"i":293,"m":-0.15,"k":"c"},{"i":294,"m":-0.25,"k":"c"},{"i":295,"m":-0.25,"k":"c"},{"i":296,"m":-0.25,"k":"c"},{"i":297,"m":-0.15,"k":"d"},{"i":298,"m":-0.1,"k":"d"},{"i":299,"m":-0.05,"k":"d"},{"i":300,"m":-0.1,"k":"c"},{"i":301,"m":-0.1,"k":"c"},{"i":302,"m":-0.1,"k":"c"},{"i":303,"m":-0.15,"k":"c"},{"i":304,"m":-0.2,"k":"c"},{"i":305,"m":-0.25,"k":"c"},{"i":306,"m":-0.25,"k":"c"},{"i":307,"m":-0.2,"k":"d"},{"i":308,"m":-0.2,"k":"d"},{"i":309,"m":-0.15,"k":"d"},{"i":310,"m":-0.1,"k":"d"},{"i":311,"m":-0.05,"k":"d"},{"i":312,"m":-0.05,"k":"d"},{"i":313,"m":-0.02,"k":"d"},{"i":314,"m":0.05,"k":"a"},{"i":315,"m":0.1,"k":"a"},{"i":316,"m":0.15,"k":"a"},{"i":317,"m":0.2,"k":"a"},{"i":318,"m":0.15,"k":"b"},{"i":319,"m":0.2,"k":"a"},{"i":320,"m":0.25,"k":"a"},{"i":321,"m":0.3,"k":"a"},{"i":322,"m":0.35,"k":"a"},{"i":323,"m":0.5,"k":"a"},{"i":324,"m":0.6,"k":"a"},{"i":325,"m":0.75,"k":"a"},{"i":326,"m":0.85,"k":"a"},{"i":327,"m":0.9,"k":"a"},{"i":328,"m":0.95,"k":"a"},{"i":329,"m":0.95,"k":"a"}],
"macd":[{"i":-0.4,"m":3.47},{"i":1.1,"m":2.9},{"i":3.2,"m":2.47},{"i":4.8,"m":1.76},{"i":7.5,"m":1.21},{"i":9.9,"m":0.73},{"i":11.7,"m":1.4},{"i":12.7,"m":1.76},{"i":14,"m":2.76},{"i":15.9,"m":3.33},{"i":18.3,"m":3.37},{"i":19.3,"m":3.64},{"i":20.1,"m":3.54},{"i":22.2,"m":2.83},{"i":24.4,"m":2.54},{"i":25.9,"m":2.19},{"i":27.5,"m":2.11},{"i":30.2,"m":1.69},{"i":32.3,"m":1.4},{"i":34.4,"m":1.01},{"i":36.5,"m":0.93},{"i":38.4,"m":0.97},{"i":40.7,"m":0.69},{"i":42.8,"m":0.33},{"i":44.9,"m":0.26},{"i":47,"m":-0.96},{"i":49.1,"m":-1.67},{"i":50.7,"m":-1.96},{"i":52.8,"m":-2.89},{"i":55,"m":-3.81},{"i":57.6,"m":-4.81},{"i":60.2,"m":-4.67},{"i":62.9,"m":-3.53},{"i":66,"m":-1.96},{"i":69.2,"m":-0.46},{"i":72.4,"m":0.76},{"i":74.5,"m":1.33},{"i":76.1,"m":2.61},{"i":77.7,"m":3.87},{"i":80.8,"m":4.43},{"i":84,"m":4.39},{"i":86.1,"m":4.27},{"i":88.4,"m":4.23},{"i":91.9,"m":3.33},{"i":94,"m":3.07},{"i":95.6,"m":2.69},{"i":97.7,"m":1.97},{"i":100.4,"m":1.04},{"i":102.4,"m":0.83},{"i":106.1,"m":0.04},{"i":109.8,"m":0.21},{"i":112,"m":0},{"i":115.6,"m":-0.14},{"i":118.8,"m":0.76},{"i":123,"m":0.93},{"i":127,"m":2.69},{"i":129.4,"m":3.11},{"i":131.3,"m":3.33},{"i":133,"m":3.04},{"i":135.7,"m":1.69},{"i":137.8,"m":1.04},{"i":141.8,"m":-0.89},{"i":143,"m":-2.53},{"i":144.4,"m":-4.67},{"i":147,"m":-6.2},{"i":151,"m":-6.0},{"i":153.6,"m":-4.67},{"i":158.9,"m":-3.0},{"i":161.5,"m":-3.17},{"i":165.2,"m":-3.36},{"i":168.2,"m":-2.53},{"i":171.2,"m":-2.1},{"i":174.2,"m":-1.6},{"i":177.2,"m":-1.27},{"i":180.1,"m":-1.46},{"i":186.8,"m":-1.56},{"i":192,"m":-1.7},{"i":196.6,"m":-1.17},{"i":200,"m":-1.13},{"i":201.6,"m":-0.81},{"i":204.4,"m":-0.6},{"i":208.6,"m":-1.3},{"i":211.6,"m":-1.67},{"i":215.3,"m":-1.96},{"i":219.8,"m":-2.1},{"i":222.5,"m":-2.31},{"i":226.5,"m":-1.89},{"i":230.3,"m":-1.67},{"i":233.2,"m":-1.31},{"i":235.4,"m":-0.6},{"i":237.7,"m":-0.07},{"i":240.7,"m":-0.46},{"i":242.9,"m":-0.64},{"i":247.4,"m":-0.43},{"i":252.6,"m":0.11},{"i":255.6,"m":0.26},{"i":258.6,"m":0.16},{"i":263,"m":-0.03},{"i":268.4,"m":0.61},{"i":269.9,"m":0.64},{"i":272.9,"m":1.01},{"i":275.9,"m":0.87},{"i":281.1,"m":0.79},{"i":284.8,"m":0.47},{"i":287.8,"m":0.36},{"i":292.3,"m":0.47},{"i":296,"m":0.11},{"i":299.8,"m":0.21},{"i":303.5,"m":0.04},{"i":308.7,"m":-0.27},{"i":312.4,"m":-0.03},{"i":316.9,"m":0.26},{"i":321.7,"m":0.26},{"i":322.9,"m":0.76},{"i":325.1,"m":1.33},{"i":327.4,"m":2.04},{"i":329,"m":2.43}],
"signal":[{"i":-0.4,"m":3.29},{"i":3.2,"m":3},{"i":5.9,"m":2.43},{"i":8.5,"m":1.83},{"i":10.6,"m":1.47},{"i":12.7,"m":1.5},{"i":14.9,"m":1.97},{"i":17,"m":2.54},{"i":19.1,"m":2.9},{"i":20.9,"m":3.04},{"i":23.8,"m":2.9},{"i":27,"m":2.54},{"i":31.2,"m":1.97},{"i":34.4,"m":1.54},{"i":37.5,"m":1.26},{"i":40.7,"m":1.01},{"i":44.9,"m":0.64},{"i":47.6,"m":0.19},{"i":49.1,"m":-0.53},{"i":51.3,"m":-1.17},{"i":53.4,"m":-1.67},{"i":55.5,"m":-2.67},{"i":57.6,"m":-3.53},{"i":60.2,"m":-4.03},{"i":62.4,"m":-3.89},{"i":64.5,"m":-3.67},{"i":68.2,"m":-2.24},{"i":72.4,"m":-0.74},{"i":76.1,"m":0.83},{"i":78.2,"m":1.9},{"i":80.8,"m":3.04},{"i":84,"m":3.69},{"i":86.6,"m":3.97},{"i":89.3,"m":4.04},{"i":92.4,"m":3.76},{"i":96.1,"m":3.26},{"i":99.8,"m":2.47},{"i":104,"m":1.54},{"i":107.2,"m":0.76},{"i":111.4,"m":0.36},{"i":116.2,"m":0.07},{"i":119.9,"m":0.33},{"i":124.1,"m":0.69},{"i":127.8,"m":1.54},{"i":131,"m":2.47},{"i":133.6,"m":2.76},{"i":136.8,"m":2.19},{"i":139.9,"m":1.33},{"i":143.1,"m":-0.39},{"i":145.2,"m":-2.24},{"i":147.8,"m":-4.03},{"i":149.8,"m":-4.67},{"i":153,"m":-5.5},{"i":156.3,"m":-4.67},{"i":158.9,"m":-3.81},{"i":161.5,"m":-3.57},{"i":166,"m":-3.39},{"i":169.7,"m":-2.67},{"i":173.5,"m":-2.17},{"i":179.4,"m":-1.6},{"i":185.4,"m":-1.53},{"i":192,"m":-1.64},{"i":200.4,"m":-1.24},{"i":205.6,"m":-0.89},{"i":210.9,"m":-1.31},{"i":216.9,"m":-1.81},{"i":223.6,"m":-2.14},{"i":230.3,"m":-1.89},{"i":233.2,"m":-1.6},{"i":237.7,"m":-0.81},{"i":242.2,"m":-0.56},{"i":248.2,"m":-0.5},{"i":256.4,"m":0.07},{"i":263.2,"m":0.01},{"i":270.6,"m":0.47},{"i":275,"m":0.76},{"i":282.5,"m":0.8},{"i":288.5,"m":0.51},{"i":293,"m":0.5},{"i":297.4,"m":0.3},{"i":302.7,"m":0.21},{"i":308.7,"m":-0.13},{"i":316.9,"m":0.04},{"i":322.1,"m":0.19},{"i":325.1,"m":0.83},{"i":328.8,"m":1.47}],
"axis2":[{"m":2.5,"t":"2.500"},{"m":0,"t":"0.000"},{"m":-2.5,"t":"−2.500"}]
},
"vconcat":[
{"width":1585,"height":976,
"encoding":{"x":{"field":"i","type":"quantitative","scale":{"domain":[-1.504,395.9],"nice":false,"zero":false},"axis":null}},
"resolve":{"scale":{"y":"independent"}},
"layer":[
{"encoding":{"y":{"field":"p","type":"quantitative","scale":{"type":"log","domain":[61.83,120.45],"nice":false},"axis":null}},
"layer":[
{"data":{"name":"upper"},"mark":{"type":"area","color":"#f4f9fe","interpolate":"monotone"},"encoding":{"y2":{"datum":61.83}}},
{"data":{"name":"lower"},"mark":{"type":"area","color":"#ffffff","interpolate":"monotone"},"encoding":{"y2":{"datum":61.83}}},
{"data":{"name":"months"},"transform":[{"calculate":"120.45","as":"p"}],"mark":{"type":"rule","color":"#f0f2f5","strokeWidth":1.5},"encoding":{"y2":{"datum":61.83}}},
{"data":{"name":"ticks"},"transform":[{"calculate":"-0.5","as":"i"}],"mark":{"type":"rule","color":"#f0f2f5","strokeWidth":1.5},"encoding":{"x2":{"datum":367.1}}}
]},
{"data":{"name":"candles"},"mark":{"type":"rule","strokeWidth":1.7,"opacity":0.5},"encoding":{"y":{"field":"v","type":"quantitative","scale":{"domain":[-2,974],"nice":false,"zero":false},"axis":null},"y2":{"datum":0},"color":{"condition":{"test":"datum.c>=datum.o","value":"#459a84"},"value":"#e0474f"}}},
{"encoding":{"y":{"field":"p","type":"quantitative","scale":{"type":"log","domain":[61.83,120.45],"nice":false},"axis":null}},
"layer":[
{"data":{"name":"upper"},"mark":{"type":"line","color":"#3f66f0","strokeWidth":1.6,"interpolate":"monotone"}},
{"data":{"name":"lower"},"mark":{"type":"line","color":"#3f66f0","strokeWidth":1.6,"interpolate":"monotone"}},
{"data":{"name":"ma"},"mark":{"type":"line","color":"#f4893a","strokeWidth":1.6,"interpolate":"monotone"}},
{"data":{"name":"candles"},"mark":{"type":"rule","strokeWidth":1.3},"encoding":{"y":{"field":"h","type":"quantitative","scale":{"type":"log","domain":[61.83,120.45],"nice":false},"axis":null},"y2":{"field":"l"},"color":{"condition":{"test":"datum.c>=datum.o","value":"#459a84"},"value":"#e0474f"}}},
{"data":{"name":"candles"},"mark":{"type":"rule","strokeWidth":3},"encoding":{"y":{"field":"o","type":"quantitative","scale":{"type":"log","domain":[61.83,120.45],"nice":false},"axis":null},"y2":{"field":"c"},"color":{"condition":{"test":"datum.c>=datum.o","value":"#459a84"},"value":"#e0474f"}}},
{"data":{"name":"levels"},"transform":[{"filter":"datum.g!='d'"},{"calculate":"-0.3","as":"i"}],"mark":{"type":"rule"},"encoding":{"x2":{"datum":367.1},"color":{"field":"k","type":"nominal","scale":{"domain":["orange","blue","teal","green"],"range":["#f39c38","#3b61f3","#459a84","#6aae60"]},"legend":null},"strokeWidth":{"field":"g","type":"nominal","scale":{"domain":["s","m","l"],"range":[2.4,3.3,4.6]},"legend":null}}},
{"data":{"name":"levels"},"transform":[{"filter":"datum.g=='d'"},{"calculate":"-0.3","as":"i"}],"mark":{"type":"rule","strokeWidth":1.5,"strokeDash":[1,2],"color":"#459a84"},"encoding":{"x2":{"datum":367.1}}},
{"data":{"values":[{"i":-0.25,"p":118.2},{"i":367.3,"p":96.42}]},"mark":{"type":"line","color":"#f39c38","strokeWidth":4.8,"strokeJoin":"round"}},
{"data":{"name":"ticks"},"transform":[{"calculate":"370.9","as":"i"}],"mark":{"type":"text","align":"left","baseline":"middle","fontSize":21,"letterSpacing":0.6,"color":"#131722"},"encoding":{"text":{"field":"p","type":"quantitative","format":".3f"}}},
{"data":{"name":"levels"},"transform":[{"filter":"datum.p>=100"},{"calculate":"367.3","as":"i"}],"mark":{"type":"rule","strokeWidth":29},"encoding":{"x2":{"datum":393.9},"y":{"field":"lp","type":"quantitative","scale":{"type":"log","domain":[61.83,120.45],"nice":false},"axis":null},"color":{"field":"k","type":"nominal","scale":{"domain":["orange","blue","teal","green"],"range":["#f39c38","#3b61f3","#459a84","#6aae60"]},"legend":null}}},
{"data":{"name":"levels"},"transform":[{"filter":"datum.p<100"},{"calculate":"367.3","as":"i"}],"mark":{"type":"rule","strokeWidth":29},"encoding":{"x2":{"datum":390.7},"y":{"field":"lp","type":"quantitative","scale":{"type":"log","domain":[61.83,120.45],"nice":false},"axis":null},"color":{"field":"k","type":"nominal","scale":{"domain":["orange","blue","teal","green"],"range":["#f39c38","#3b61f3","#459a84","#6aae60"]},"legend":null}}},
{"data":{"name":"levels"},"transform":[{"calculate":"370.9","as":"i"}],"mark":{"type":"text","align":"left","baseline":"middle","fontSize":21,"letterSpacing":0.6},"encoding":{"y":{"field":"lp","type":"quantitative","scale":{"type":"log","domain":[61.83,120.45],"nice":false},"axis":null},"text":{"field":"p","type":"quantitative","format":".3f"},"color":{"condition":{"test":"datum.k=='orange'","value":"#131722"},"value":"#ffffff"}}},
{"data":{"values":[{"i":367.1,"p":120.45}]},"mark":{"type":"rect","color":"#ffffff"},"encoding":{"x2":{"datum":395.9},"y2":{"datum":116.1}}},
{"data":{"values":[{"i":368.8,"p":120.14}]},"mark":{"type":"rect","fill":"#ffffff","stroke":"#e6e8ec","strokeWidth":2,"cornerRadius":6},"encoding":{"x2":{"datum":393.9},"y2":{"datum":116.65}}},
{"data":{"values":[{"i":370.6,"p":118.3,"t":"RUB"}]},"mark":{"type":"text","align":"left","baseline":"middle","fontSize":20,"color":"#131722"},"encoding":{"text":{"field":"t"}}},
{"data":{"values":[{"i":390.9,"p":118.3}]},"mark":{"type":"point","shape":"M-1,-0.5L0,0.5L1,-0.5","size":64,"color":"#131722","strokeWidth":1.6,"filled":false}},
{"data":{"values":[{"i":7.27,"p":118.3}]},"mark":{"type":"circle","size":730,"color":"#1a3a8f","opacity":1}},
{"data":{"values":[{"i":7.27,"p":118.3}]},"mark":{"type":"point","shape":"M-0.7,-0.9L1,-0.9L0.8,-0.4L-0.9,-0.4Z M-0.8,-0.25L0.9,-0.25L0.7,0.25L-1,0.25Z M-0.9,0.4L0.8,0.4L0.6,0.9L-1.1,0.9Z","size":170,"filled":true,"color":"#4aa3e8","opacity":1}},
{"data":{"values":[{"i":62.6,"p":119.8}]},"mark":{"type":"rect","color":"#e3f1ee","cornerRadiusTopLeft":15,"cornerRadiusBottomLeft":15},"encoding":{"x2":{"datum":71},"y2":{"datum":117.37}}},
{"data":{"values":[{"i":71,"p":119.8}]},"mark":{"type":"rect","color":"#f5dbe5","cornerRadiusTopRight":15,"cornerRadiusBottomRight":15},"encoding":{"x2":{"datum":79.2},"y2":{"datum":117.37}}},
{"data":{"values":[{"i":67.2,"p":118.55}]},"mark":{"type":"circle","size":170,"color":"#459a84","opacity":1}},
{"data":{"values":[{"i":74.7,"p":118.55,"t":"≈"}]},"mark":{"type":"text","align":"center","baseline":"middle","fontSize":22,"fontWeight":"bold","color":"#d6336c"},"encoding":{"text":{"field":"t"}}},
{"data":{"name":"head"},"transform":[{"calculate":"118.3","as":"p"}],"mark":{"type":"text","align":"left","baseline":"middle","letterSpacing":0.8},"encoding":{"text":{"field":"t"},"size":{"field":"k","type":"nominal","scale":{"domain":["name","dark","val"],"range":[25,22,22]},"legend":null},"color":{"condition":{"test":"datum.k=='val'","value":"#459a84"},"value":"#131722"}}},
{"data":{"values":[{"i":-1.504,"p":120.45}]},"mark":{"type":"rect","color":"#e9ecef"},"encoding":{"x2":{"datum":-0.5},"y2":{"datum":61.83}}},
{"data":{"values":[{"i":-1.504,"p":61.93}]},"mark":{"type":"rect","color":"#dfe3e8"},"encoding":{"x2":{"datum":395.9},"y2":{"datum":61.83}}}
]}
]},
{"width":1585,"height":264,
"encoding":{"x":{"field":"i","type":"quantitative","scale":{"domain":[-1.504,395.9],"nice":false,"zero":false},"axis":null},"y":{"field":"m","type":"quantitative","scale":{"domain":[-6.51,4.82],"nice":false,"zero":false},"axis":null}},
"layer":[
{"data":{"name":"months"},"transform":[{"calculate":"4.82","as":"m"}],"mark":{"type":"rule","color":"#f0f2f5","strokeWidth":1.5},"encoding":{"y2":{"datum":-4.65}}},
{"data":{"name":"axis2"},"transform":[{"filter":"datum.m!=0"},{"calculate":"-0.5","as":"i"}],"mark":{"type":"rule","color":"#f0f2f5","strokeWidth":1.5},"encoding":{"x2":{"datum":367.1}}},
{"data":{"values":[{"m":0,"i":-0.5}]},"mark":{"type":"rule","color":"#b4b8be","strokeWidth":1.3,"strokeDash":[5,5]},"encoding":{"x2":{"datum":367.1}}},
{"data":{"name":"hist"},"mark":{"type":"rule","strokeWidth":1.7},"encoding":{"y2":{"datum":0},"color":{"field":"k","type":"nominal","scale":{"domain":["a","b","c","d"],"range":["#459a84","#b5dcd3","#ef5350","#fbcdd2"]},"legend":null}}},
{"data":{"name":"macd"},"mark":{"type":"line","color":"#3f66f0","strokeWidth":1.8,"interpolate":"monotone"}},
{"data":{"name":"signal"},"mark":{"type":"line","color":"#f47d30","strokeWidth":1.8,"interpolate":"monotone"}},
{"data":{"values":[{"i":-1.504,"m":-4.65}]},"mark":{"type":"rect","color":"#ffffff"},"encoding":{"x2":{"datum":395.9},"y2":{"datum":-6.51}}},
{"data":{"name":"axis2"},"transform":[{"calculate":"370.9","as":"i"}],"mark":{"type":"text","align":"left","baseline":"middle","fontSize":20,"letterSpacing":0.4,"color":"#131722"},"encoding":{"text":{"field":"t"}}},
{"data":{"name":"months"},"transform":[{"filter":"datum.t!='2026'"},{"calculate":"-5.695","as":"m"}],"mark":{"type":"text","align":"center","baseline":"middle","fontSize":20,"color":"#131722"},"encoding":{"text":{"field":"t"}}},
{"data":{"name":"months"},"transform":[{"filter":"datum.t=='2026'"},{"calculate":"-5.695","as":"m"}],"mark":{"type":"text","align":"center","baseline":"middle","fontSize":20,"fontWeight":"bold","color":"#131722"},"encoding":{"text":{"field":"t"}}},
{"data":{"values":[{"i":11.05,"m":-3.08}]},"mark":{"type":"point","shape":"M-1,-0.5L-0.16,-0.5L-0.16,0.5L-0.59,0.5L-0.59,-0.12L-1,-0.12Z M-0.08,-0.3a0.2,0.2 0 1,0 0.4,0a0.2,0.2 0 1,0 -0.4,0Z M0.4,-0.5L1,-0.5L0.62,0.5L0.12,0.5Z","size":2700,"filled":true,"color":"#0f0f0f","opacity":1}},
{"data":{"values":[{"i":20.2,"m":-3.12,"t":"TradingView"}]},"mark":{"type":"text","align":"left","baseline":"middle","fontSize":34,"fontWeight":600,"color":"#0f0f0f","letterSpacing":-0.5},"encoding":{"text":{"field":"t"}}},
{"data":{"values":[{"i":381.6,"m":-5.7}]},"mark":{"type":"point","shape":"M-1,0L-0.5,-0.87L0.5,-0.87L1,0L0.5,0.87L-0.5,0.87Z","size":530,"filled":false,"color":"#131722","strokeWidth":1.8,"opacity":1}},
{"data":{"values":[{"i":381.6,"m":-5.7}]},"mark":{"type":"circle","size":50,"filled":false,"color":"#131722","strokeWidth":1.8,"opacity":1}},
{"data":{"values":[{"i":-1.504,"m":4.82}]},"mark":{"type":"rect","color":"#e9ecef"},"encoding":{"x2":{"datum":-0.5},"y2":{"datum":-6.51}}}
]}
]}
